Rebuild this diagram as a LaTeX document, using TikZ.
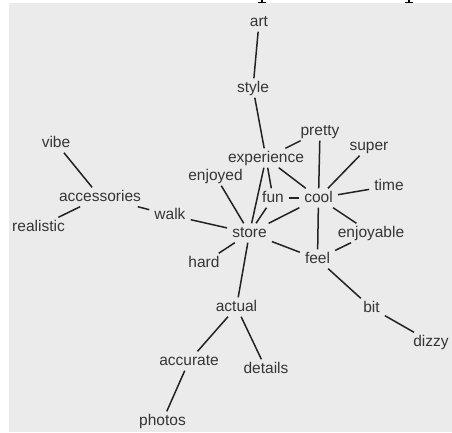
\documentclass[tikz,border=0pt]{standalone}
\usepackage{fontspec}
\setmainfont{Liberation Sans}
\definecolor{bggray}{HTML}{EBEBEB}
\definecolor{txtgray}{HTML}{353535}
\definecolor{edgegray}{HTML}{222222}
\begin{document}
\begin{tikzpicture}[x=1pt,y=-1pt,
  word/.style={inner xsep=5pt, inner ysep=2.5pt, text height=11pt, text depth=3pt,
    text=txtgray, font=\fontsize{15.5}{16}\selectfont},
  edge/.style={draw=edgegray, line width=1.5pt}]
\useasboundingbox (0,0) rectangle (452,432);
\fill[bggray] (9,3) rectangle (452,432);
% cut-off title descenders
\fill[black] (261,0) rectangle (263,3);
\fill[black] (258,2.2) rectangle (266,3);
\fill[black] (408,0) rectangle (410,3);
\fill[black] (405,2.2) rectangle (413,3);
% nodes
\node[word] (art) at (259,22) {art};
\node[word] (style) at (253,88) {style};
\node[word] (pretty) at (320,131) {pretty};
\node[word] (vibe) at (56,143) {vibe};
\node[word] (super) at (369,146) {super};
\node[word] (experience) at (266,158) {experience};
\node[word] (enjoyed) at (215.5,176) {enjoyed};
\node[word] (time) at (389,186) {time};
\node[word] (fun) at (273,198) {fun};
\node[word] (cool) at (318.5,198) {cool};
\node[word] (accessories) at (100,197) {accessories};
\node[word] (walk) at (170,215) {walk};
\node[word] (realistic) at (38.5,227) {realistic};
\node[word] (store) at (249.5,233) {store};
\node[word] (enjoyable) at (371,233) {enjoyable};
\node[word] (hard) at (204,263) {hard};
\node[word] (feel) at (317.5,259) {feel};
\node[word] (actual) at (236.5,307) {actual};
\node[word] (bit) at (371.5,308) {bit};
\node[word] (dizzy) at (431,342) {dizzy};
\node[word] (accurate) at (189,361) {accurate};
\node[word] (details) at (266,369) {details};
\node[word] (photos) at (162.5,421) {photos};
% edges
\draw[edge] (art) -- (style);
\draw[edge] (style) -- (experience);
\draw[edge] (experience) -- (store);
\draw[edge] (experience) -- (fun);
\draw[edge] (experience) -- (cool);
\draw[edge] (pretty) -- (experience);
\draw[edge] (pretty) -- (cool);
\draw[edge] (super) -- (cool);
\draw[edge] (time) -- (cool);
\draw[edge] (fun) -- (cool);
\draw[edge] (cool) -- (store);
\draw[edge] (fun) -- (store);
\draw[edge] (enjoyed) -- (store);
\draw[edge] (cool) -- (enjoyable);
\draw[edge] (cool) -- (feel);
\draw[edge] (enjoyable) -- (feel);
\draw[edge] (store) -- (feel);
\draw[edge] (store) -- (hard);
\draw[edge] (store) -- (actual);
\draw[edge] (walk) -- (store);
\draw[edge] (accessories) -- (walk);
\draw[edge] (accessories) -- (vibe);
\draw[edge] (accessories) -- (realistic);
\draw[edge] (feel) -- (bit);
\draw[edge] (bit) -- (dizzy);
\draw[edge] (actual) -- (accurate);
\draw[edge] (actual) -- (details);
\draw[edge] (accurate) -- (photos);
\end{tikzpicture}
\end{document}
